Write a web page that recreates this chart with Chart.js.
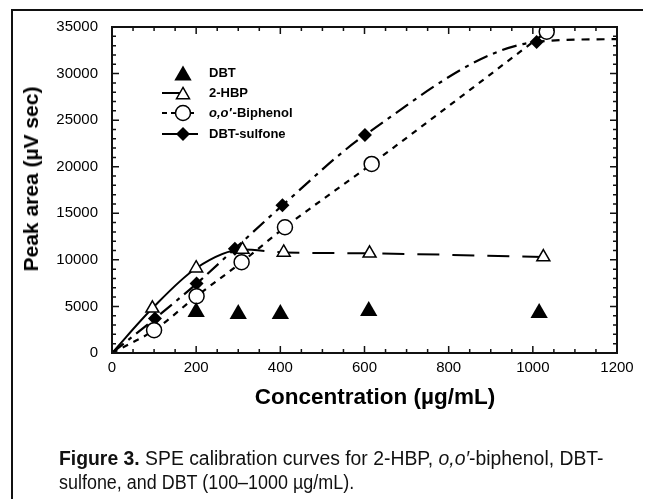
<!DOCTYPE html>
<html>
<head>
<meta charset="utf-8">
<script src="https://cdn.jsdelivr.net/npm/chart.js@4.4.1/dist/chart.umd.min.js"></script>
<style>
  html, body { margin: 0; padding: 0; background: #fff; }
  #wrap { position: relative; width: 646px; height: 499px; overflow: hidden; }
  #chart { position: absolute; left: 0; top: 0; }
  .frame-left { position: absolute; left: 11px; top: 9px; width: 2px; height: 490px; background: #111; }
  .frame-top { position: absolute; left: 11px; top: 9px; width: 632px; height: 2px; background: #111; }
  .axis-title { position: absolute; font-family: "Liberation Sans", Arial, sans-serif; font-weight: bold; color: #000; white-space: nowrap; }
  #xtitle { font-size: 22.5px; left: 375px; top: 384px; transform: translateX(-50%); }
  #ytitle { font-size: 21px; left: 31px; top: 179px; transform: translate(-50%, -50%) rotate(-90deg); }
  .caption { position: absolute; left: 59px; font-family: "Liberation Sans Narrow", "Liberation Sans", sans-serif; font-size: 20px; line-height: 24px; color: #111; white-space: nowrap; transform-origin: 0 0; }
  #cap1 { top: 446px; }
  #cap2 { top: 470px; }
</style>
</head>
<body>
<div id="wrap">
  <canvas id="chart" width="646" height="499"></canvas>
  <div class="frame-left"></div>
  <div class="frame-top"></div>
  <div class="axis-title" id="xtitle">Concentration (µg/mL)</div>
  <div class="axis-title" id="ytitle">Peak area (µV sec)</div>
  <div class="caption" id="cap1"><b>Figure 3.</b> SPE calibration curves for 2-HBP, <i>o,o′</i>-biphenol, DBT-</div>
  <div class="caption" id="cap2">sulfone, and DBT (100–1000 µg/mL).</div>
</div>
<script>
// values (x in µg/mL, y in µV sec)
const dbtX = [200, 300, 400, 610, 1015];
const dbtY = [4400, 4200, 4200, 4500, 4300];

const hbpX = [0, 96, 200, 310, 408, 612, 1025];
const hbpY = [0, 4800, 9100, 11100, 10800, 10700, 10300];

const biphenolX = [0, 100, 201, 308, 411, 617, 1033];
const biphenolY = [0, 2450, 6100, 9750, 13500, 20300, 34500];

const sulfoneX = [0, 102, 201, 292, 405, 601, 1009, 1200];
const sulfoneY = [0, 3700, 7450, 11200, 15850, 23400, 33400, 33700];

const xTicks = [0, 200, 400, 600, 800, 1000, 1200];
const yTicks = [0, 5000, 10000, 15000, 20000, 25000, 30000, 35000];

const LEGEND = [
  { label: "DBT", marker: "tri-filled", line: null },
  { label: "2-HBP", marker: "tri-open", line: [] },
  { label: "-Biphenol", italic: "o,o′", marker: "circle-open", line: [5, 4] },
  { label: "DBT-sulfone", marker: "diamond", line: [] },
];

function pts(xs, ys) {
  return xs.map((x, i) => ({ x, y: ys[i] }));
}

// hide markers on the curve-only anchor points (origin and right tail)
function markerRadius(r) {
  return (ctx) => (ctx.raw && (ctx.raw.x === 0 || ctx.raw.x === 1200) ? 0 : r);
}

// inward major/minor ticks on all four sides, plus the box
const frameTicks = {
  id: "frameTicks",
  afterDraw(chart) {
    const { ctx, chartArea: a, scales } = chart;
    const xs = scales.x, ys = scales.y;
    ctx.save();
    ctx.strokeStyle = "#111";
    ctx.lineWidth = 1.5;
    for (let v = 0; v <= 1200; v += 50) {
      const px = xs.getPixelForValue(v);
      const len = v % 200 === 0 ? 7 : 4;
      ctx.beginPath();
      ctx.moveTo(px, a.bottom); ctx.lineTo(px, a.bottom - len);
      ctx.moveTo(px, a.top); ctx.lineTo(px, a.top + len);
      ctx.stroke();
    }
    for (let v = 0; v <= 35000; v += 1000) {
      const py = ys.getPixelForValue(v);
      const len = v % 5000 === 0 ? 7 : 4;
      ctx.beginPath();
      ctx.moveTo(a.left, py); ctx.lineTo(a.left + len, py);
      ctx.moveTo(a.right, py); ctx.lineTo(a.right - len, py);
      ctx.stroke();
    }
    ctx.lineWidth = 2;
    ctx.strokeRect(a.left, a.top, a.right - a.left, a.bottom - a.top);
    ctx.restore();
  },
};

function drawMarker(ctx, kind, x, y) {
  ctx.beginPath();
  if (kind === "tri-filled" || kind === "tri-open") {
    const r = kind === "tri-filled" ? 10 : 7.5;
    for (let k = 0; k < 3; k++) {
      const ang = (k * 2 * Math.PI) / 3;
      const px = x + Math.sin(ang) * r, py = y - Math.cos(ang) * r + r * 0.25;
      k === 0 ? ctx.moveTo(px, py) : ctx.lineTo(px, py);
    }
    ctx.closePath();
  } else if (kind === "circle-open") {
    ctx.arc(x, y, 7.5, 0, Math.PI * 2);
  } else {
    const r = 7;
    ctx.moveTo(x, y - r); ctx.lineTo(x + r, y); ctx.lineTo(x, y + r); ctx.lineTo(x - r, y);
    ctx.closePath();
  }
  if (kind === "tri-open" || kind === "circle-open") {
    ctx.fillStyle = "#fff";
    ctx.fill();
    ctx.lineWidth = 1.5;
    ctx.stroke();
  } else {
    ctx.fillStyle = "#000";
    ctx.fill();
  }
}

const insetLegend = {
  id: "insetLegend",
  afterDatasetsDraw(chart) {
    const { ctx } = chart;
    const rowsY = [73, 93, 113, 134];
    ctx.save();
    ctx.strokeStyle = "#000";
    LEGEND.forEach((item, i) => {
      const y = rowsY[i];
      if (item.line) {
        ctx.setLineDash(item.line);
        ctx.lineWidth = 2;
        ctx.beginPath();
        ctx.moveTo(162, y);
        ctx.lineTo(item.marker === "tri-open" ? 180 : 198, y);
        ctx.stroke();
        ctx.setLineDash([]);
      }
      drawMarker(ctx, item.marker, 183, y);
      ctx.fillStyle = "#000";
      ctx.textBaseline = "middle";
      let tx = 209;
      if (item.italic) {
        ctx.font = "italic bold 13px 'Liberation Sans', Arial, sans-serif";
        ctx.fillText(item.italic, tx, y);
        tx += ctx.measureText(item.italic).width + 1;
      }
      ctx.font = "bold 13px 'Liberation Sans', Arial, sans-serif";
      ctx.fillText(item.label, tx, y);
    });
    ctx.restore();
  },
};

const tickFont = { family: "'Liberation Sans', Arial, sans-serif", size: 15 };

new Chart(document.getElementById("chart"), {
  type: "line",
  data: {
    datasets: [
      {
        label: "DBT",
        data: pts(dbtX, dbtY),
        showLine: false,
        pointStyle: "triangle",
        pointRadius: 10,
        pointBackgroundColor: "#000",
        pointBorderColor: "#000",
        pointBorderWidth: 0,
      },
      {
        label: "2-HBP",
        data: pts(hbpX, hbpY),
        borderColor: "#000",
        borderWidth: 2,
        cubicInterpolationMode: "monotone",
        segment: { borderDash: (c) => (c.p0DataIndex >= 3 ? [22, 13] : []) },
        pointStyle: "triangle",
        pointRadius: markerRadius(7.5),
        pointBackgroundColor: "#fff",
        pointBorderColor: "#000",
        pointBorderWidth: 1.5,
      },
      {
        label: "o,o′-Biphenol",
        data: pts(biphenolX, biphenolY),
        borderColor: "#000",
        borderWidth: 2.2,
        borderDash: [6, 6],
        cubicInterpolationMode: "monotone",
        pointStyle: "circle",
        pointRadius: markerRadius(7.5),
        pointBackgroundColor: "#fff",
        pointBorderColor: "#000",
        pointBorderWidth: 1.5,
      },
      {
        label: "DBT-sulfone",
        data: pts(sulfoneX, sulfoneY),
        borderColor: "#000",
        borderWidth: 2.2,
        cubicInterpolationMode: "monotone",
        segment: { borderDash: (c) => (c.p0DataIndex >= 6 ? [8, 7] : [15, 6, 4, 6]) },
        pointStyle: "rectRot",
        pointRadius: markerRadius(7),
        pointBackgroundColor: "#000",
        pointBorderColor: "#000",
        pointBorderWidth: 0,
      },
    ],
  },
  options: {
    responsive: false,
    animation: false,
    layout: { padding: { left: 0, top: 27, right: 29, bottom: 126 } },
    plugins: { legend: { display: false }, tooltip: { enabled: false } },
    scales: {
      x: {
        type: "linear",
        min: 0,
        max: 1200,
        afterFit: (s) => { s.height = 20; },
        afterBuildTicks: (s) => { s.ticks = xTicks.map((v) => ({ value: v })); },
        ticks: { color: "#000", font: tickFont, padding: 6, maxRotation: 0, callback: (v) => String(v) },
        grid: { display: false, drawTicks: false },
        border: { display: false },
      },
      y: {
        type: "linear",
        min: 0,
        max: 35000,
        afterFit: (s) => { s.width = 112; },
        afterBuildTicks: (s) => { s.ticks = yTicks.map((v) => ({ value: v })); },
        ticks: { color: "#000", font: tickFont, padding: 14, callback: (v) => String(v) },
        grid: { display: false, drawTicks: false },
        border: { display: false },
      },
    },
  },
  plugins: [frameTicks, insetLegend],
});

// fit caption lines to the printed width of the figure
(function fitCaption() {
  const target = { cap1: 545, cap2: 295 };
  for (const id of Object.keys(target)) {
    const el = document.getElementById(id);
    const w = el.scrollWidth;
    if (w > 0) el.style.transform = `scaleX(${target[id] / w})`;
  }
})();
</script>
</body>
</html>
